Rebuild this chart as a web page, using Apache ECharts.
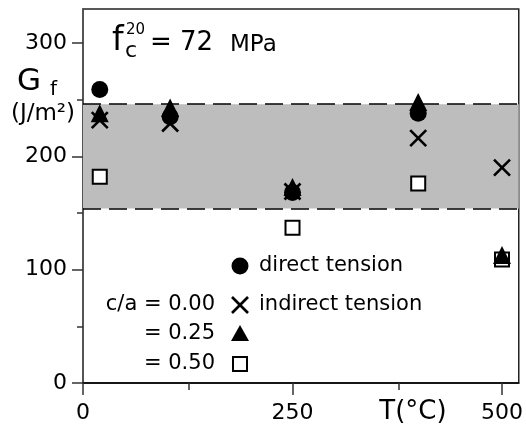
<!DOCTYPE html>
<html>
<head>
<meta charset="utf-8">
<script src="https://cdn.jsdelivr.net/npm/echarts@6/dist/echarts.min.js"></script>
<style>
  html, body { margin: 0; padding: 0; background: #fff; }
  #chart { width: 526px; height: 430px; }
</style>
</head>
<body>
<div id="chart"></div>
<script>
// G_f vs temperature, fc20 = 72 MPa
var FONT = 'DejaVu Sans'

// axis ticks
var xLabelTicks = [0, 250, 500]
var xMinorTicks = [125, 375]
var yLabelTicks = [0, 100, 200, 300]
var yMinorTicks = [50, 150, 250]

// scatter band (J/m2)
var bandLow = 154
var bandHigh = 246

// direct tension (circles)
var directT = [20, 104, 250, 400]
var directGf = [259, 235, 168, 238]
// indirect tension, c/a = 0.00 (crosses)
var ca000T = [20, 104, 250, 400, 500]
var ca000Gf = [232, 229, 169, 216, 190]
// indirect tension, c/a = 0.25 (triangles)
var ca025T = [20, 104, 250, 400, 500]
var ca025Gf = [238, 243, 173, 248, 113]
// indirect tension, c/a = 0.50 (squares)
var ca050T = [20, 250, 400, 500]
var ca050Gf = [182, 137, 176, 109]

function pairs(xs, ys) {
    return xs.map(function (x, i) { return [x, ys[i]] })
}

function txt(str, x, y, size, align) {
    return {
        type: 'text', x: x, y: y,
        style: { text: str, font: size + 'px ' + FONT, fill: '#000', textAlign: align || 'left', textVerticalAlign: 'middle' }
    }
}

var crossPath = 'path://M0,0L10,10M10,0L0,10'

var chart = echarts.init(document.getElementById('chart'), null, { renderer: 'canvas' })

var option = {
    animation: false,
    backgroundColor: '#fff',
    textStyle: { fontFamily: FONT, color: '#000' },
    grid: [
        { left: 83, top: 9, right: 5, bottom: 47, show: true, borderColor: '#222', borderWidth: 1.5 },
        { left: 83, top: 9, right: 5, bottom: 47, show: false }
    ],
    xAxis: [{
        type: 'value', gridIndex: 0, min: 0, max: 520,
        axisLine: { show: true, onZero: false, lineStyle: { color: '#000', width: 1.5 } },
        axisTick: { show: true, customValues: xLabelTicks, length: 12, lineStyle: { color: '#333', width: 1.5 } },
        axisLabel: { customValues: xLabelTicks, fontFamily: FONT, fontSize: 22, color: '#000', margin: 19 },
        splitLine: { show: false }
    }, {
        type: 'value', gridIndex: 1, min: 0, max: 520, position: 'bottom',
        axisLine: { show: false },
        axisTick: { show: true, customValues: xMinorTicks, length: 7, lineStyle: { color: '#333', width: 1.5 } },
        axisLabel: { show: false },
        splitLine: { show: false }
    }],
    yAxis: [{
        type: 'value', gridIndex: 0, min: 0, max: 330,
        axisLine: { show: true, onZero: false, lineStyle: { color: '#555', width: 1.5 } },
        axisTick: { show: true, customValues: yLabelTicks, length: 11, lineStyle: { color: '#333', width: 1.5 } },
        axisLabel: { customValues: yLabelTicks, fontFamily: FONT, fontSize: 22, color: '#000', margin: 16 },
        splitLine: { show: false }
    }, {
        type: 'value', gridIndex: 1, min: 0, max: 330, position: 'left',
        axisLine: { show: false },
        axisTick: { show: true, customValues: yMinorTicks, length: 6, lineStyle: { color: '#333', width: 1.5 } },
        axisLabel: { show: false },
        splitLine: { show: false }
    }],
    series: [{
        // band only
        type: 'scatter', data: [], z: 1, silent: true,
        markArea: {
            silent: true,
            itemStyle: { color: '#bdbdbd' },
            data: [[{ yAxis: bandLow }, { yAxis: bandHigh }]]
        },
        markLine: {
            silent: true, symbol: 'none',
            label: { show: false },
            lineStyle: { color: '#000', width: 1.5, type: [18, 8] },
            data: [{ yAxis: bandLow }, { yAxis: bandHigh }]
        }
    }, {
        name: 'c/a = 0.50', type: 'scatter', z: 3,
        symbol: 'rect', symbolSize: 14,
        itemStyle: { color: '#fff', borderColor: '#000', borderWidth: 2, opacity: 1 },
        data: pairs(ca050T, ca050Gf)
    }, {
        name: 'c/a = 0.00', type: 'scatter', z: 3,
        symbol: crossPath, symbolSize: 16,
        itemStyle: { color: 'none', borderColor: '#000', borderWidth: 2.6, opacity: 1 },
        data: pairs(ca000T, ca000Gf)
    }, {
        name: 'c/a = 0.25', type: 'scatter', z: 3,
        symbol: 'triangle', symbolSize: 18,
        itemStyle: { color: '#000', opacity: 1 },
        data: pairs(ca025T, ca025Gf)
    }, {
        name: 'direct tension', type: 'scatter', z: 3,
        symbol: 'circle', symbolSize: 17,
        itemStyle: { color: '#000', opacity: 1 },
        data: pairs(directT, directGf)
    }],
    graphic: [
        // title  f_c^20 = 72 MPa
        txt('f', 112, 41, 33),
        txt('20', 126, 30, 15),
        txt('c', 125, 51, 22),
        txt('= 72', 150, 43, 26),
        txt('MPa', 230, 45, 23),
        // y axis name
        txt('G', 17, 82, 31),
        txt('f', 50, 90, 20),
        txt('(J/m²)', 43, 114, 23, 'center'),
        // x axis name
        txt('T(°C)', 413, 412, 26, 'center'),
        // legend
        { type: 'circle', shape: { cx: 240, cy: 266, r: 8.5 }, style: { fill: '#000' } },
        txt('direct tension', 259, 266, 21),
        { type: 'line', shape: { x1: 232, y1: 297, x2: 248, y2: 313 }, style: { stroke: '#000', lineWidth: 2.6 } },
        { type: 'line', shape: { x1: 248, y1: 297, x2: 232, y2: 313 }, style: { stroke: '#000', lineWidth: 2.6 } },
        txt('indirect tension', 259, 305, 21),
        txt('c/a = 0.00', 215, 305, 21, 'right'),
        { type: 'polygon', shape: { points: [[240, 325], [249, 341], [231, 341]] }, style: { fill: '#000' } },
        txt('= 0.25', 215, 334, 21, 'right'),
        { type: 'rect', shape: { x: 233, y: 357, width: 14, height: 14 }, style: { fill: '#fff', stroke: '#000', lineWidth: 2 } },
        txt('= 0.50', 215, 364, 21, 'right')
    ]
}

chart.setOption(option)
</script>
</body>
</html>
